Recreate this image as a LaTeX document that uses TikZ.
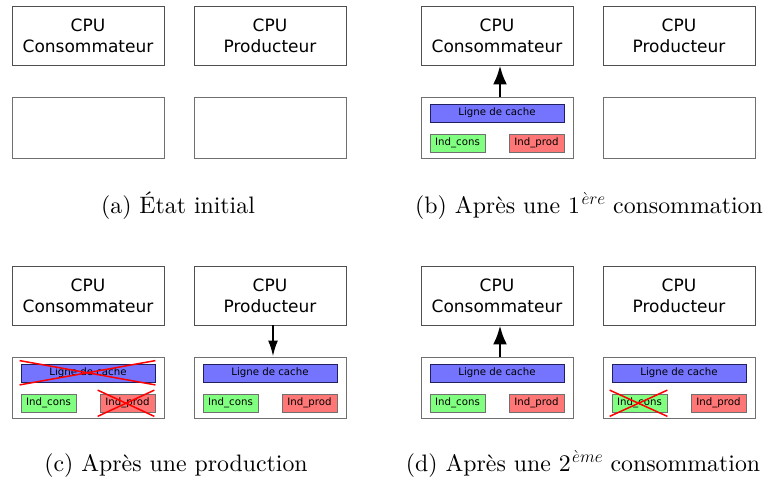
\documentclass[tikz,border=0pt]{standalone}
\usepackage{fontspec}
\usetikzlibrary{arrows.meta}
\newfontfamily\boxfont{DejaVu Sans}
\newfontfamily\capfont{lmroman10-regular.otf}
\definecolor{cpugray}{HTML}{505050}
\definecolor{cachegray}{HTML}{707070}
\definecolor{barblue}{HTML}{7474FF}
\definecolor{barborder}{HTML}{202060}
\definecolor{indgreen}{HTML}{80FF80}
\definecolor{indred}{HTML}{FF7676}
\definecolor{indborder}{HTML}{707070}
\newcommand\cachefill[2]{%
  \node[linebar] (#1bar) at (#2,113) {Ligne de cache};
  \node[indc] (#1ic) at (#2-39.5,143) {Ind\_cons};
  \node[indp] (#1ip) at (#2+39.5,143) {Ind\_prod};
}
\newcommand\supexp[1]{\kern1.5pt\raisebox{9pt}{\fontsize{17.28}{18}\selectfont$#1$}}
\begin{document}
\begin{tikzpicture}[x=1pt,y=-1pt,
  cpubox/.style={draw=cpugray, line width=0.9pt, fill=white, minimum width=152pt,
    minimum height=59pt, inner sep=0pt, align=center,
    font=\boxfont\fontsize{17}{21}\selectfont},
  cachebox/.style={draw=cachegray, line width=0.9pt, fill=white, minimum width=152pt,
    minimum height=61pt, inner sep=0pt},
  linebar/.style={draw=barborder, line width=0.8pt, fill=barblue, minimum width=134pt,
    minimum height=18pt, inner sep=0pt, font=\boxfont\fontsize{10.2}{12}\selectfont},
  indc/.style={draw=indborder, line width=0.8pt, fill=indgreen, minimum width=55pt,
    minimum height=18pt, inner sep=0pt, font=\boxfont\fontsize{10.2}{12}\selectfont},
  indp/.style={indc, fill=indred},
  bigarr/.style={-{Latex[length=19pt,width=14pt]}, line width=2.8pt},
  smallarr/.style={-{Latex[length=16pt,width=10pt]}, line width=2.2pt},
  cross/.style={red, line width=1.5pt},
  caplabel/.style={anchor=base, inner sep=0pt, font=\capfont\fontsize{23.8}{28}\selectfont}
]
\useasboundingbox (0,0) rectangle (770,482);

% (a)
\begin{scope}
  \node[cpubox] (acons) at (88,35.5) {CPU\\Consommateur};
  \node[cpubox] (aprod) at (270,35.5) {CPU\\Producteur};
  \node[cachebox] (acc) at (88,127.5) {};
  \node[cachebox] (acp) at (270,127.5) {};
  \node[caplabel] (acap) at (178,213) {(a) État initial};
\end{scope}

% (b)
\begin{scope}[shift={(409,0)}]
  \node[cpubox] (bcons) at (88,35.5) {CPU\\Consommateur};
  \node[cpubox] (bprod) at (270,35.5) {CPU\\Producteur};
  \node[cachebox] (bcc) at (88,127.5) {};
  \node[cachebox] (bcp) at (270,127.5) {};
  \cachefill{b}{88}
  \node[caplabel] (bcap) at (180,213) {(b) Après une 1\supexp{\grave{e}re} consommation};
\end{scope}
\draw[bigarr] ([xshift=3pt]bcc.north) -- ([xshift=3pt]bcons.south);

% (c)
\begin{scope}[shift={(0,260)}]
  \node[cpubox] (ccons) at (88,35.5) {CPU\\Consommateur};
  \node[cpubox] (cprod) at (270,35.5) {CPU\\Producteur};
  \node[cachebox] (ccc) at (88,127.5) {};
  \node[cachebox] (ccp) at (270,127.5) {};
  \cachefill{c}{88}
  \cachefill{cp}{270}
  \node[caplabel] (ccap) at (176,211) {(c) Après une production};
\end{scope}
\draw[smallarr] ([xshift=3pt]cprod.south) -- ([xshift=3pt]ccp.north);
\draw[cross] ([shift={(-1pt,3pt)}]cbar.north west) -- ([shift={(0pt,-2.5pt)}]cbar.south east);
\draw[cross] ([shift={(-1pt,-2.5pt)}]cbar.south west) -- ([shift={(0pt,3pt)}]cbar.north east);
\draw[cross] ([shift={(-2pt,3.5pt)}]cip.north west) -- ([shift={(-1pt,-4pt)}]cip.south east);
\draw[cross] ([shift={(-2pt,-4pt)}]cip.south west) -- ([shift={(-1pt,3.5pt)}]cip.north east);

% (d)
\begin{scope}[shift={(409,260)}]
  \node[cpubox] (dcons) at (88,35.5) {CPU\\Consommateur};
  \node[cpubox] (dprod) at (270,35.5) {CPU\\Producteur};
  \node[cachebox] (dcc) at (88,127.5) {};
  \node[cachebox] (dcp) at (270,127.5) {};
  \cachefill{d}{88}
  \cachefill{dp}{270}
  \node[caplabel] (dcap) at (174,211) {(d) Après une 2\supexp{\grave{e}me} consommation};
\end{scope}
\draw[bigarr] ([xshift=3pt]dcc.north) -- ([xshift=3pt]dcons.south);
\draw[cross] ([shift={(-2pt,3.5pt)}]dpic.north west) -- ([shift={(0pt,-4pt)}]dpic.south east);
\draw[cross] ([shift={(-2pt,-4pt)}]dpic.south west) -- ([shift={(0pt,3.5pt)}]dpic.north east);
\end{tikzpicture}
\end{document}
